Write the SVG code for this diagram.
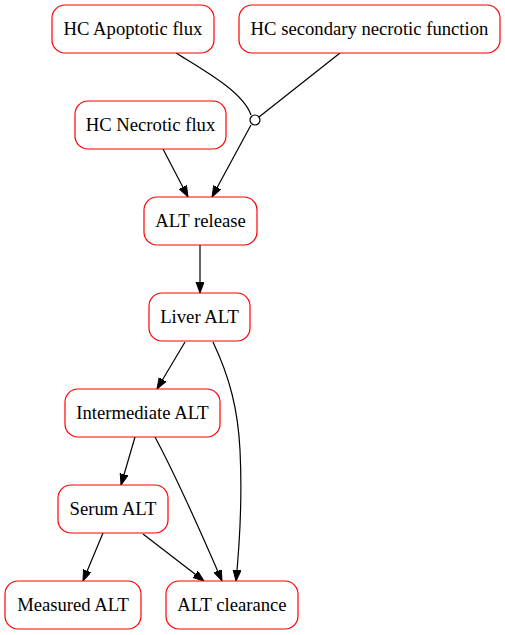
<svg xmlns="http://www.w3.org/2000/svg" width="505" height="635" viewBox="0 0 505 635">
<style>
.n rect{fill:#fff;stroke:#ff0000;stroke-width:1.2}
.n text{font-family:'Liberation Serif','DejaVu Serif',serif;font-size:18.67px;fill:#000;text-anchor:middle}
.e path{fill:none;stroke:#000;stroke-width:1.2}
</style>
<defs>
<marker id="a" markerUnits="userSpaceOnUse" markerWidth="13" markerHeight="10" refX="11" refY="4" orient="auto">
<path d="M0,0 L11,4 L0,8 Z" fill="#000" stroke="#000"/>
</marker>
</defs>
<rect width="505" height="635" fill="#fff"/>
<g class="e">
<path d="M176,53 C205,71 243,92 251,115"/>
<path d="M340,53 L259,117"/>
<circle cx="255" cy="120" r="5" fill="#fff" stroke="#000" stroke-width="1.2"/>
<path d="M251,125 L212,197" marker-end="url(#a)"/>
<path d="M163,149 L188,197" marker-end="url(#a)"/>
<path d="M200,245 L200,293" marker-end="url(#a)"/>
<path d="M185,342 L157,389" marker-end="url(#a)"/>
<path d="M213,342 C230,378 238,410 240,450 C242,490 240,540 236,581" marker-end="url(#a)"/>
<path d="M135,437 L121,485" marker-end="url(#a)"/>
<path d="M155,437 C178,480 203,537 222,581" marker-end="url(#a)"/>
<path d="M103,533 L83,581" marker-end="url(#a)"/>
<path d="M143,534 L204,581" marker-end="url(#a)"/>
</g>
<g id="apoptotic" class="n"><rect x="52" y="5" width="162" height="48" rx="13"/><text x="133" y="34.5">HC Apoptotic flux</text></g>
<g id="secondary" class="n"><rect x="239" y="5" width="261" height="48" rx="13"/><text x="369.5" y="34.5">HC secondary necrotic function</text></g>
<g id="necrotic" class="n"><rect x="75" y="101" width="151" height="48" rx="13"/><text x="150.5" y="130.5">HC Necrotic flux</text></g>
<g id="release" class="n"><rect x="144" y="197" width="113" height="48" rx="13"/><text x="200.5" y="226.5">ALT release</text></g>
<g id="liver" class="n"><rect x="149" y="293" width="101" height="48" rx="13"/><text x="199.5" y="322.5">Liver ALT</text></g>
<g id="intermediate" class="n"><rect x="65" y="389" width="155" height="48" rx="13"/><text x="142.5" y="418.5">Intermediate ALT</text></g>
<g id="serum" class="n"><rect x="58" y="485" width="110" height="48" rx="13"/><text x="113" y="514.5">Serum ALT</text></g>
<g id="measured" class="n"><rect x="5" y="581" width="136" height="48" rx="13"/><text x="73" y="610.5">Measured ALT</text></g>
<g id="clearance" class="n"><rect x="166" y="581" width="132" height="48" rx="13"/><text x="232" y="610.5">ALT clearance</text></g>
</svg>
